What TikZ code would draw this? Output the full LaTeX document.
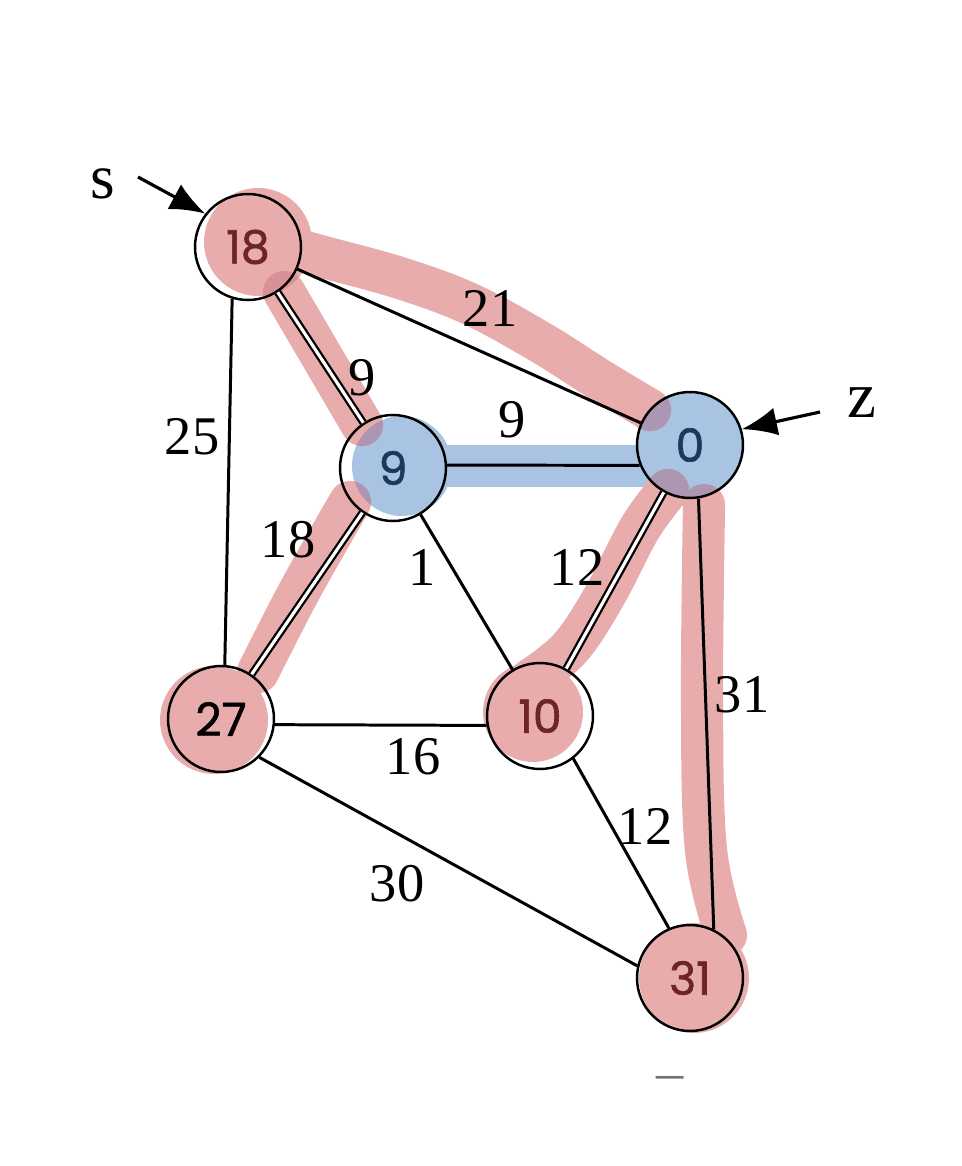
\documentclass[tikz,border=0pt]{standalone}
\usepackage{fontspec}
\setmainfont{Liberation Serif}
\newfontfamily\handfont{Poppins}[BoldFont={*}, BoldFeatures={FakeBold=1.3}]
\usetikzlibrary{arrows.meta}
\definecolor{hlred}{RGB}{232,172,172}
\definecolor{hlblue}{RGB}{168,196,226}
\definecolor{hlmix}{RGB}{172,150,178}
\definecolor{hldark}{RGB}{216,146,150}
\definecolor{inkred}{RGB}{110,36,38}
\definecolor{inkblue}{RGB}{28,56,90}
% the red marker strokes along the picked edges
\newcommand{\redtrail}[1]{%
	\draw[#1] plot[smooth, tension=0.6] coordinates {(262, 240) (320, 256) (400, 278) (470, 304) (540, 342) (600, 380) (650, 410)};
	\draw[#1] (284, 292) -- (362, 425);
	\draw[#1] plot[smooth, tension=0.6] coordinates {(350, 502) (300, 590) (258, 672)};
	\draw[#1] plot[smooth, tension=0.6] coordinates {(668, 490) (640, 528) (605, 595) (570, 648) (530, 680)};
	\draw[#1] plot[smooth, tension=0.6] coordinates {(704, 505) (702, 700) (706, 850) (726, 935)};}

\begin{document}
\begin{tikzpicture}[x=0.02cm, y=-0.02cm,
	vertex/.style={circle, draw=black, line width=1.4pt, minimum size=2.12cm, inner sep=0pt, font=\handfont\bfseries\fontsize{26}{28}\selectfont},
	weight/.style={font=\fontsize{31}{36}\selectfont},
	edge/.style={line width=1.7pt},
	twoline/.style={double, line width=1.3pt, double distance=1.8pt},
	hlstroke/.style={line width=24pt, line cap=round, line join=round},
	pointer/.style={line width=1.8pt, -{Latex[length=20pt, width=16pt]}}]
			%%%%% START %%%%%
			\useasboundingbox (0, 0) rectangle (962, 1166);
			
			% blue marker
			\fill[hlblue] (402, 466) circle (1.0cm);
			\fill[hlblue] (690, 445) circle (1.06cm);
			\draw[hlblue, hlstroke] (440, 466) -- (650, 466);
			
			% red marker
			\fill[hlred] (258, 242) circle (1.08cm);
			\fill[hlred] (214, 720) circle (1.08cm);
			\fill[hlred] (533, 712) circle (1.0cm);
			\fill[hlred] (694, 978) circle (1.1cm);
			\redtrail{hlred, hlstroke}
			\begin{scope}
				\clip (402, 466) circle (1.0cm) (690, 445) circle (1.06cm);
				\redtrail{hlmix, hlstroke}
			\end{scope}
			\begin{scope}
				\clip (258, 242) circle (1.08cm);
				\draw[hldark, hlstroke] (284, 292) -- (362, 425);
			\end{scope}
			
			\node[vertex, text=inkred] (n18) at (248, 247) {18};
			\node[vertex, text=inkblue] (n9) at (393, 468) {9};
			\node[vertex, text=inkblue] (n0) at (690, 445) {0};
			\node[vertex, text=black] (n27) at (221, 719) {27};
			\node[vertex, text=inkred] (n10) at (540, 716) {10};
			\node[vertex, text=inkred] (n31) at (690, 978) {31};
			
			\draw[edge] (n18) -- (n0);
			\draw[edge, twoline] (n18) -- (n9);
			\draw[edge] (n18.253) -- (n27.86);
			\draw[edge] (n9.3) -- (n0.202);
			\draw[edge, twoline] (n9) -- (n27);
			\draw[edge] (n9) -- (n10);
			\draw[edge, twoline] (n0) -- (n10);
			\draw[edge] (n0.-81) -- (n31.64);
			\draw[edge] (n27.-6) -- (n10.190);
			\draw[edge] (n27.-45) -- (n31.167);
			\draw[edge] (n10.-52) -- (n31.113);
			
			\node[weight] (w21) at (490, 308) {21};
			\node[weight] (w9a) at (362, 378) {9};
			\node[weight] (w25) at (192, 437) {25};
			\node[weight] (w9b) at (512, 420) {9};
			\node[weight] (w18) at (288, 540) {18};
			\node[weight] (w1) at (422, 568) {1};
			\node[weight] (w12a) at (577, 567) {12};
			\node[weight] (w31) at (742, 695) {31};
			\node[weight] (w16) at (413, 757) {16};
			\node[weight] (w30) at (397, 884) {30};
			\node[weight] (w12b) at (645, 826) {12};
			
			\node[font=\fontsize{36}{40}\selectfont] (ls) at (103, 184) {s};
			\coordinate (sTail) at (138, 177);
			\draw[pointer] (sTail) -- (n18.142);
			
			\node[font=\fontsize{37}{40}\selectfont] (lz) at (862, 403) {z};
			\coordinate (zTail) at (820, 412);
			\draw[pointer] (zTail) -- (n0.17);
			
			\node[weight, text=black!55] (dash) at (670, 1083) {\textendash};
			
			%%%%% END %%%%%
\end{tikzpicture}
\end{document}
